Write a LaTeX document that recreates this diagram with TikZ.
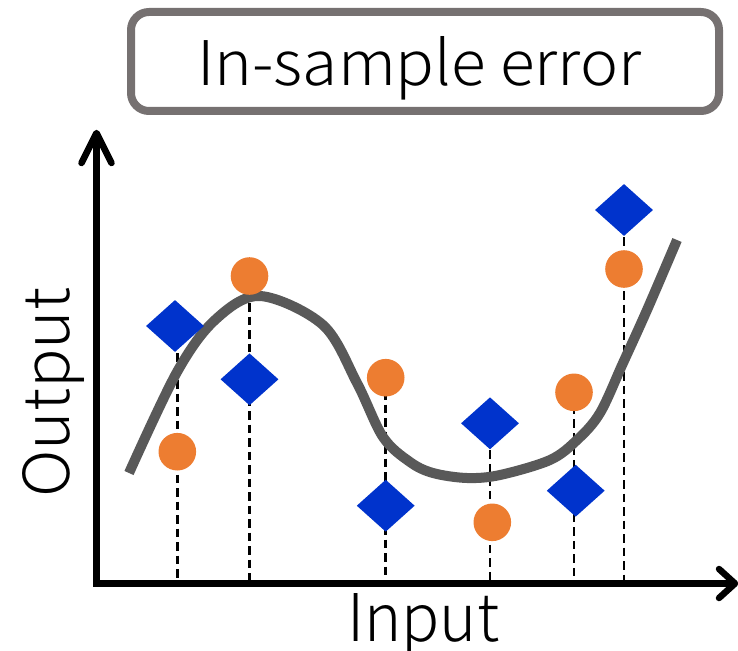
\documentclass[tikz,border=0pt]{standalone}
\usepackage{fontspec}
\setmainfont{Noto Sans CJK JP}[UprightFont={* Light}]
\usepackage{graphicx}
\usetikzlibrary{shapes.geometric}
\definecolor{boxgray}{HTML}{767171}
\definecolor{curvegray}{HTML}{595959}
\definecolor{dotorange}{HTML}{ED7D31}
\definecolor{diablue}{HTML}{0033CC}
\begin{document}
\begin{tikzpicture}[x=1pt,y=-1pt,
  dot/.style={circle,fill=dotorange,inner sep=0pt,minimum size=37.6pt},
  dia/.style={diamond,fill=diablue,inner sep=0pt,minimum width=58pt,minimum height=52pt},
  guide/.style={black,line width=2.9pt,dash pattern=on 8.5pt off 5pt},
  axisline/.style={line width=6.5pt,black},
  tiphead/.style={line width=6.5pt,black,line cap=round,line join=round},
  fitcurve/.style={curvegray,line width=10pt}]
\useasboundingbox (0,0) rectangle (738,650);
% title
\node[draw=boxgray,line width=8pt,rounded corners=18pt,minimum width=588pt,minimum height=99pt] (box) at (425,61.5) {};
\node[anchor=base west,inner sep=0pt] (title) at (197,85) {\resizebox{444pt}{49pt}{In-sample error}};
% axes
\coordinate (O) at (96.5,583.5);
\coordinate (ytip) at (96.5,133);
\coordinate (xtip) at (735,583.5);
\draw[axisline] (ytip) -- (O) -- (xtip);
\draw[tiphead] ([xshift=-15pt,yshift=-30pt]ytip) -- (ytip) -- ([xshift=15pt,yshift=-30pt]ytip);
\draw[tiphead] ([xshift=-16pt,yshift=14.5pt]xtip) -- (xtip) -- ([xshift=-16pt,yshift=-14.5pt]xtip);
\node[rotate=90,anchor=base west,inner sep=0pt] (ylab) at (69,498) {\resizebox{210pt}{47pt}{Output}};
\node[anchor=base west,inner sep=0pt] (xlab) at (347,641) {\resizebox{152pt}{48pt}{Input}};
% sample positions
\coordinate (pd1) at (175,326);
\coordinate (pc1) at (177.3,451.7);
\coordinate (pc2) at (249.5,276);
\coordinate (pd2) at (249.5,379.3);
\coordinate (pc3) at (385.7,377.7);
\coordinate (pd3) at (385.7,505.7);
\coordinate (pd4) at (490,423.3);
\coordinate (pc4) at (492.3,522.3);
\coordinate (pc5) at (574,392.3);
\coordinate (pd5) at (575.7,490.7);
\coordinate (pd6) at (624,210);
\coordinate (pc6) at (624,269);
% guide lines
\draw[guide] (pc1 |- pd1) -- (pc1 |- O);
\draw[guide] (pc2) -- (pc2 |- O);
\draw[guide] (pc3) -- (pc3 |- O);
\draw[guide] (pd4) -- (pd4 |- O);
\draw[guide] (pc5) -- (pc5 |- O);
\draw[guide] (pd6) -- (pd6 |- O);
% fitted curve
\draw[fitcurve] plot[smooth,tension=0.55] coordinates {(129,473) (177,372) (215,320) (260,296) (323,325) (357,383) (383,437) (410,462) (433,473) (467,478) (500,475) (550,460) (577,440) (600,413) (623,363) (647,310) (677,240)};
% markers
\node[dia] (d1) at (pd1) {};
\node[dot] (c1) at (pc1) {};
\node[dot] (c2) at (pc2) {};
\node[dia] (d2) at (pd2) {};
\node[dot] (c3) at (pc3) {};
\node[dia] (d3) at (pd3) {};
\node[dia] (d4) at (pd4) {};
\node[dot] (c4) at (pc4) {};
\node[dot] (c5) at (pc5) {};
\node[dia] (d5) at (pd5) {};
\node[dia] (d6) at (pd6) {};
\node[dot] (c6) at (pc6) {};
\end{tikzpicture}
\end{document}
